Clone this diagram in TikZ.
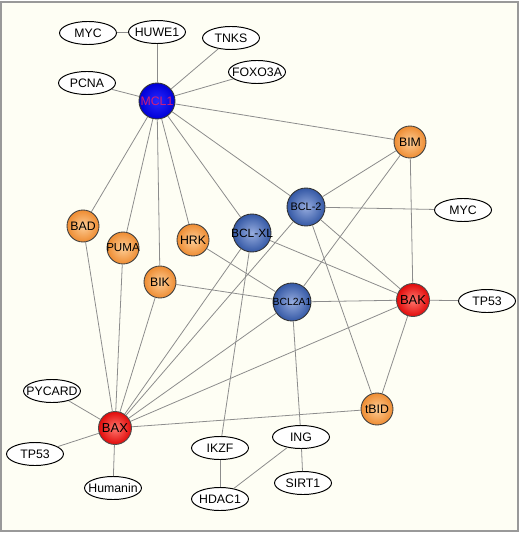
\documentclass[tikz,border=0pt]{standalone}
\usepackage{fontspec}
\setmainfont{Liberation Sans}
\usetikzlibrary{shapes.geometric}

\definecolor{bgcream}{RGB}{254,254,244}
\definecolor{orgin}{RGB}{253,205,150}
\definecolor{orgout}{RGB}{238,140,50}
\definecolor{bluin}{RGB}{150,172,222}
\definecolor{bluout}{RGB}{52,88,165}
\definecolor{redin}{RGB}{255,120,110}
\definecolor{redout}{RGB}{225,10,10}
\definecolor{mclin}{RGB}{40,40,255}
\definecolor{mclout}{RGB}{0,0,215}
\definecolor{mcltxt}{RGB}{210,30,120}

\begin{document}
\begin{tikzpicture}[x=0.02cm,y=-0.02cm,
 every node/.style={font=\fontsize{7}{8}\selectfont},
 gene/.style={draw,ellipse,fill=white,line width=0.55pt,minimum width=1.14cm,minimum height=0.46cm,inner xsep=-6pt,inner ysep=0pt},
 bhnode/.style={draw=black!75,circle,line width=0.5pt,inner color=orgin,outer color=orgout,minimum size=0.64cm,inner sep=-2pt},
 bclnode/.style={draw=black!80,circle,line width=0.5pt,inner color=bluin,outer color=bluout,minimum size=0.76cm,inner sep=-3pt},
 effnode/.style={draw=black!70,circle,line width=0.5pt,inner color=redin,outer color=redout,minimum size=0.66cm,inner sep=0pt,font=\fontsize{7.4}{8}\selectfont},
 link/.style={draw=black!45,line width=0.45pt}]
\useasboundingbox (0,0) rectangle (520,533);
\draw[fill=bgcream,draw=black!40,line width=0.8pt] (1,2) rectangle (518,531);

\node[gene] (myca) at (88,33) {MYC};
\node[gene] (huwe) at (157,32) {HUWE1};
\node[gene] (tnks) at (231,38) {TNKS};
\node[gene] (foxo) at (257,72) {FOXO3A};
\node[gene] (pcna) at (87,83) {PCNA};
\node[draw=black!80,circle,line width=0.5pt,inner color=mclin,outer color=mclout,minimum size=0.72cm,inner sep=-1pt,text=mcltxt] (mcl) at (157,101) {MCL1};
\node[bhnode] (bim) at (410,142) {BIM};
\node[bhnode] (bad) at (83,226) {BAD};
\node[bhnode,font=\fontsize{6.6}{7}\selectfont] (puma) at (123,248) {PUMA};
\node[bhnode] (hrk) at (193,240) {HRK};
\node[bhnode] (bik) at (160,282) {BIK};
\node[bhnode] (tbid) at (377,409) {tBID};
\node[bclnode,font=\fontsize{6.8}{7}\selectfont] (bclxl) at (252,233) {BCL-XL};
\node[bclnode,font=\fontsize{6.2}{7}\selectfont] (bcl2) at (306,207) {BCL-2};
\node[bclnode,font=\fontsize{5.9}{6}\selectfont] (bcla) at (292,302) {BCL2A1};
\node[effnode] (bak) at (413,300) {BAK};
\node[effnode] (bax) at (115,428) {BAX};
\node[gene] (mycb) at (463,210) {MYC};
\node[gene] (tpa) at (487,301) {TP53};
\node[gene] (pyc) at (52,391) {PYCARD};
\node[gene] (tpb) at (35,454) {TP53};
\node[gene] (hum) at (113,488) {Humanin};
\node[gene] (ikzf) at (220,448) {IKZF};
\node[gene] (hdac) at (220,499) {HDAC1};
\node[gene] (ing) at (301,437) {ING};
\node[gene] (sirt) at (303,483) {SIRT1};

\draw[link] (myca) -- (huwe);
\draw[link] (huwe) -- (mcl);
\draw[link] (tnks) -- (mcl);
\draw[link] (foxo) -- (mcl);
\draw[link] (pcna) -- (mcl);
\draw[link] (mcl) -- (bim);
\draw[link] (mcl) -- (bad);
\draw[link] (mcl) -- (puma);
\draw[link] (mcl) -- (bik);
\draw[link] (mcl) -- (hrk);
\draw[link] (mcl) -- (bclxl);
\draw[link] (mcl) -- (bcl2);
\draw[link] (bim) -- (bcl2);
\draw[link] (bim) -- (bcla);
\draw[link] (bim) -- (bak);
\draw[link] (bcl2) -- (mycb);
\draw[link] (bcl2) -- (bak);
\draw[link] (bcl2) -- (tbid);
\draw[link] (bcl2) -- (bax);
\draw[link] (bclxl) -- (bak);
\draw[link] (bclxl) -- (bax);
\draw[link] (bclxl) -- (ikzf);
\draw[link] (hrk) -- (bcla);
\draw[link] (bik) -- (bcla);
\draw[link] (bcla) -- (bak);
\draw[link] (bcla) -- (bax);
\draw[link] (bcla) -- (ing);
\draw[link] (bak) -- (tpa);
\draw[link] (bak) -- (tbid);
\draw[link] (bak) -- (bax);
\draw[link] (tbid) -- (bax);
\draw[link] (bad) -- (bax);
\draw[link] (puma) -- (bax);
\draw[link] (bik) -- (bax);
\draw[link] (bax) -- (pyc);
\draw[link] (bax) -- (tpb);
\draw[link] (bax) -- (hum);
\draw[link] (ikzf) -- (hdac);
\draw[link] (ing) -- (hdac);
\draw[link] (ing) -- (sirt);
\end{tikzpicture}
\end{document}
